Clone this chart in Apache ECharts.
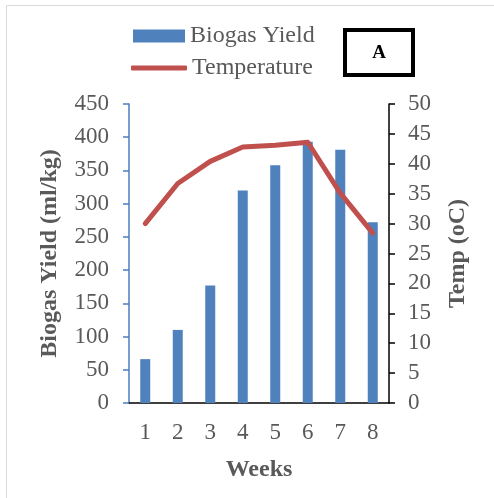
<!DOCTYPE html>
<html><head><meta charset="utf-8">
<script src="https://cdn.jsdelivr.net/npm/echarts@6/dist/echarts.min.js"></script>
<style>html,body{margin:0;padding:0;background:#fff}#c{width:494px;height:498px}</style>
</head><body><div id="c"></div>
<script>
const weeks = ['1','2','3','4','5','6','7','8'];
const biogasYield = [66, 110, 177, 320, 358, 393, 381, 272];
const temperature = [30.0, 36.7, 40.4, 42.8, 43.1, 43.6, 35.1, 28.4];
const FONT = '"Liberation Serif", "Times New Roman", serif';
const GRAY = '#595959';
const chart = echarts.init(document.getElementById('c'), null, {renderer:'canvas'});
chart.setOption({
  backgroundColor:'#fff',
  animation:false,
  grid:{left:129, right:105, top:104, bottom:95, containLabel:false},
  legend:[
    {data:[{name:'Biogas Yield', icon:'rect'}], left:133, top:24, itemWidth:52, itemHeight:13, itemGap:5,
     textStyle:{fontFamily:FONT, fontSize:24, color:GRAY}, padding:0},
    {data:[{name:'Temperature', icon:'roundRect'}], left:131, top:56, itemWidth:56, itemHeight:5, itemGap:5,
     textStyle:{fontFamily:FONT, fontSize:24, color:GRAY}, padding:0}
  ],
  xAxis:{type:'category', data:weeks,
    name:'Weeks', nameLocation:'middle', nameGap:55,
    nameTextStyle:{fontFamily:FONT, fontSize:24, fontWeight:'bold', color:GRAY},
    axisLine:{lineStyle:{color:'#000', width:1.5}}, axisTick:{show:false},
    axisLabel:{fontFamily:FONT, fontSize:23, color:GRAY, margin:18}},
  yAxis:[
    {type:'value', min:0, max:450, interval:50, position:'left',
     name:'Biogas Yield (ml/kg)', nameLocation:'middle', nameGap:67, nameRotate:90,
     nameTextStyle:{fontFamily:FONT, fontSize:24, fontWeight:'bold', color:GRAY},
     splitLine:{show:false},
     axisLine:{show:true, lineStyle:{color:'#4a7ebb', width:1.5}},
     axisTick:{show:true, inside:false, length:6, lineStyle:{color:'#4a7ebb', width:1.5}},
     axisLabel:{fontFamily:FONT, fontSize:23, color:GRAY, margin:20}},
    {type:'value', min:0, max:50, interval:5, position:'right',
     name:'Temp (oC)', nameLocation:'middle', nameGap:57, nameRotate:90,
     nameTextStyle:{fontFamily:FONT, fontSize:24, fontWeight:'bold', color:GRAY},
     splitLine:{show:false},
     axisLine:{show:true, lineStyle:{color:'#000', width:1.5}},
     axisTick:{show:true, inside:false, length:6, lineStyle:{color:'#000', width:1.5}},
     axisLabel:{fontFamily:FONT, fontSize:23, color:GRAY, margin:19}}
  ],
  series:[
    {name:'Biogas Yield', type:'bar', data:biogasYield, yAxisIndex:0, barWidth:10,
     itemStyle:{color:'#4f81bd'}, z:2},
    {name:'Temperature', type:'line', data:temperature, yAxisIndex:1, showSymbol:false, symbol:'none',
     lineStyle:{color:'#c0504d', width:5, cap:'round', join:'round'}, itemStyle:{color:'#c0504d'}, z:3}
  ],
  graphic:[
    {type:'rect', shape:{x:6.5, y:5.5, width:700, height:700}, style:{fill:null, stroke:'#d9d9d9', lineWidth:1}, silent:true, z:-1},
    {type:'rect', shape:{x:345, y:30, width:68, height:45}, style:{fill:'#fff', stroke:'#000', lineWidth:4}},
    {type:'text', x:379, y:53, style:{text:'A', font:'bold 19px "Liberation Serif"', fill:'#000', align:'center', verticalAlign:'middle'}}
  ]
});
</script></body></html>
